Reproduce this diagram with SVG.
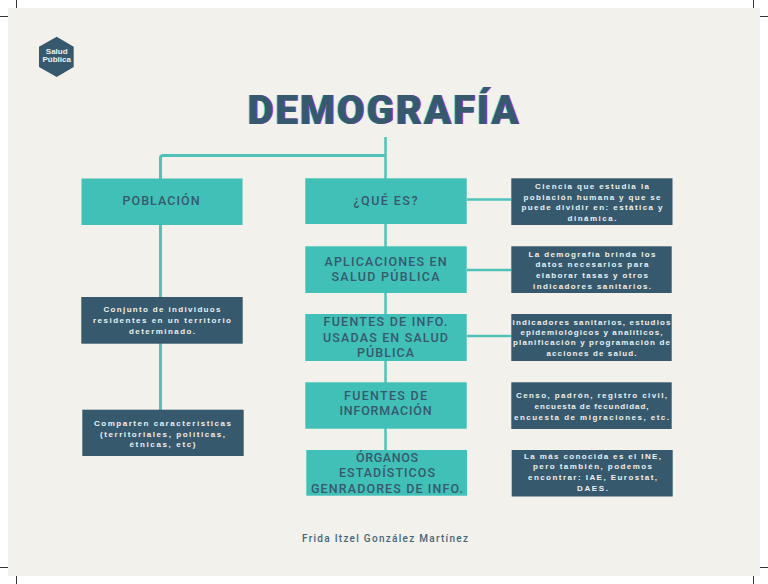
<svg xmlns="http://www.w3.org/2000/svg" width="768" height="584" viewBox="0 0 768 584">
<style>
.t{fill:#41c0b8}
.d{fill:#37596d}
.h{font-family:Roboto,"Liberation Sans",sans-serif;font-weight:500;fill:#37596d;text-anchor:middle;font-size:12.5px}
.s{font-family:"Liberation Sans",Arial,sans-serif;fill:#eef1f0;text-anchor:middle;font-size:8px;font-weight:700}
.c{stroke:#4fc3ba;fill:none}
.m{stroke:#333;stroke-width:1;fill:none}
.ti{font-family:Roboto,"Liberation Sans",sans-serif;font-weight:900;font-size:40px;text-anchor:middle;letter-spacing:2px}
</style>
<rect width="768" height="584" fill="#fff"/>
<rect x="8" y="8" width="752" height="568" fill="#f2f1ec"/>
<g id="crop-marks" class="m">
<path d="M16.5 0V8M0 16.5H8M753.5 0V8M760 16.5H768M0 567.5H8M16.5 576V584M753.5 576V584M760 567.5H768"/>
</g>
<g id="connectors">
<path class="c" stroke-width="2.5" d="M385.5 137V450"/>
<path class="c" stroke-width="3" d="M385.5 155.500H163Q160.500 155.500 160.500 158V410"/>
<path class="c" stroke-width="2.500" d="M467 199.500H511M467 270H511M467 336H511"/>
</g>
<g id="logo">
<polygon class="d" points="56.700,36.700 73.700,46.700 73.700,67 56.700,77 39,67 39,46.700"/>
<text class="s" x="56.700" y="54" style="letter-spacing:0">Salud</text>
<text class="s" x="56.700" y="62" style="letter-spacing:0">Pública</text>
</g>
<g id="title">
<text class="ti" x="384" y="123.500" fill="#45d8dc" transform="translate(-1 0)">DEMOGRAFÍA</text>
<text class="ti" x="384" y="123.500" fill="#c93fd0" transform="translate(1 0)">DEMOGRAFÍA</text>
<text class="ti" x="384" y="123.500" fill="#37596d">DEMOGRAFÍA</text>
</g>
<g id="poblacion">
<rect class="t" x="81.500" y="178.500" width="161" height="46.500"/>
<text class="h" x="161" y="205" textLength="77" lengthAdjust="spacing">POBLACIÓN</text>
</g>
<g id="que-es">
<rect class="t" x="305.300" y="178.300" width="161.400" height="45.700"/>
<text class="h" x="385.500" y="205" textLength="64" lengthAdjust="spacing">¿QUÉ ES?</text>
</g>
<g id="aplicaciones">
<rect class="t" x="305.300" y="246.300" width="161.400" height="46.700"/>
<text class="h" x="385.500" y="265.500" textLength="122" lengthAdjust="spacing">APLICACIONES EN</text>
<text class="h" x="385.500" y="281" textLength="108" lengthAdjust="spacing">SALUD PÚBLICA</text>
</g>
<g id="fuentes-usadas">
<rect class="t" x="305.300" y="314" width="161.400" height="47"/>
<text class="h" x="385.500" y="325.500" textLength="124" lengthAdjust="spacing">FUENTES DE INFO.</text>
<text class="h" x="385.500" y="342" textLength="125" lengthAdjust="spacing">USADAS EN SALUD</text>
<text class="h" x="385.500" y="357" textLength="57" lengthAdjust="spacing">PÚBLICA</text>
</g>
<g id="fuentes-informacion">
<rect class="t" x="305.300" y="382.300" width="161.400" height="46.400"/>
<text class="h" x="385.500" y="400" textLength="83" lengthAdjust="spacing">FUENTES DE</text>
<text class="h" x="385.500" y="415" textLength="92" lengthAdjust="spacing">INFORMACIÓN</text>
</g>
<g id="organos">
<rect class="t" x="306.300" y="450" width="160.700" height="45.700"/>
<text class="h" x="387" y="461.500" textLength="62" lengthAdjust="spacing">ÓRGANOS</text>
<text class="h" x="387" y="477" textLength="96" lengthAdjust="spacing">ESTADÍSTICOS</text>
<text class="h" x="387" y="493" textLength="152" lengthAdjust="spacing">GENRADORES DE INFO.</text>
</g>
<g id="def-1">
<rect class="d" x="511.300" y="178.300" width="161.200" height="46.700"/>
<text class="s" x="592" y="188.500" textLength="114" lengthAdjust="spacing">Ciencia que estudia la</text>
<text class="s" x="592" y="199.500" textLength="137" lengthAdjust="spacing">población humana y que se</text>
<text class="s" x="592" y="210" textLength="141" lengthAdjust="spacing">puede dividir en: estática y</text>
<text class="s" x="592" y="221" textLength="49" lengthAdjust="spacing">dinámica.</text>
</g>
<g id="def-2">
<rect class="d" x="511.300" y="246.300" width="160.400" height="46.700"/>
<text class="s" x="592" y="256.500" textLength="127" lengthAdjust="spacing">La demografía brinda los</text>
<text class="s" x="592" y="267" textLength="113" lengthAdjust="spacing">datos necesarios para</text>
<text class="s" x="592" y="278" textLength="112" lengthAdjust="spacing">elaborar tasas y otros</text>
<text class="s" x="592" y="289" textLength="118" lengthAdjust="spacing">indicadores sanitarios.</text>
</g>
<g id="def-3">
<rect class="d" x="511.300" y="314" width="160.400" height="47"/>
<text class="s" x="591.500" y="324.500" textLength="158" lengthAdjust="spacing">indicadores sanitarios, estudios</text>
<text class="s" x="591.500" y="335" textLength="142" lengthAdjust="spacing">epidemiológicos y analíticos,</text>
<text class="s" x="591.500" y="345" textLength="157" lengthAdjust="spacing">planificación y programación de</text>
<text class="s" x="591.500" y="355.500" textLength="90" lengthAdjust="spacing">acciones de salud.</text>
</g>
<g id="def-4">
<rect class="d" x="511.300" y="382.300" width="160.400" height="46.700"/>
<text class="s" x="591.500" y="398" textLength="151" lengthAdjust="spacing">Censo, padrón, registro civil,</text>
<text class="s" x="591.500" y="409" textLength="114" lengthAdjust="spacing">encuesta de fecundidad,</text>
<text class="s" x="591.500" y="419.500" textLength="155" lengthAdjust="spacing">encuesta de migraciones, etc.</text>
</g>
<g id="def-5">
<rect class="d" x="511.700" y="450" width="161" height="46.500"/>
<text class="s" x="592.500" y="458.500" textLength="137" lengthAdjust="spacing">La más conocida es el INE,</text>
<text class="s" x="592.500" y="469" textLength="119" lengthAdjust="spacing">pero también, podemos</text>
<text class="s" x="592.500" y="479.500" textLength="129" lengthAdjust="spacing">encontrar: IAE, Eurostat,</text>
<text class="s" x="592.500" y="491" textLength="31" lengthAdjust="spacing">DAES.</text>
</g>
<g id="conjunto">
<rect class="d" x="81.300" y="297" width="161.400" height="46.700"/>
<text class="s" x="162" y="312" textLength="117" lengthAdjust="spacing">Conjunto de individuos</text>
<text class="s" x="162" y="322.500" textLength="138" lengthAdjust="spacing">residentes en un territorio</text>
<text class="s" x="162" y="333.500" textLength="66" lengthAdjust="spacing">determinado.</text>
</g>
<g id="comparten">
<rect class="d" x="82.300" y="409.700" width="161.400" height="46.300"/>
<text class="s" x="162.500" y="426" textLength="137" lengthAdjust="spacing">Comparten características</text>
<text class="s" x="162.500" y="436.500" textLength="125" lengthAdjust="spacing">(territoriales, políticas,</text>
<text class="s" x="162.500" y="447" textLength="66" lengthAdjust="spacing">étnicas, etc)</text>
</g>
<g id="autora">
<text class="h" x="385" y="541.500" style="font-size:10px;fill:#46667a" textLength="166" lengthAdjust="spacing">Frida Itzel González Martínez</text>
</g>
</svg>
